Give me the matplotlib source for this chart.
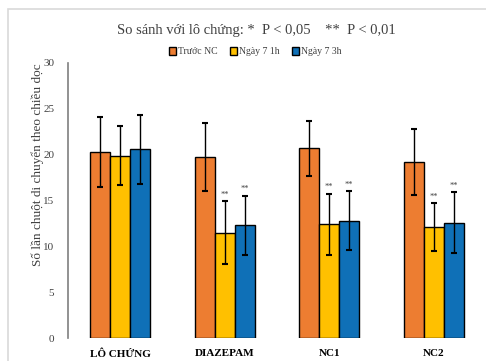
import numpy as np
import matplotlib.pyplot as plt
from matplotlib.patches import Rectangle

groups = ["LÔ CHỨNG", "DIAZEPAM", "NC1", "NC2"]
series = ["Trước NC", "Ngày 7 1h", "Ngày 7 3h"]
truoc = [20.3, 19.7, 20.7, 19.2]
ngay7_1h = [19.9, 11.5, 12.4, 12.1]
ngay7_3h = [20.6, 12.3, 12.8, 12.6]
sd_truoc = [3.8, 3.7, 3.0, 3.6]
sd_1h = [3.2, 3.4, 3.3, 2.6]
sd_3h = [3.75, 3.2, 3.2, 3.3]
marks_1h = ["", "**", "**", "**"]
marks_3h = ["", "**", "**", "**"]

colors = ["#ED7D31", "#FFC000", "#0F70B7"]

plt.rcParams['font.family'] = ['Liberation Serif', 'DejaVu Serif']

fig = plt.figure(figsize=(4.86, 3.61), dpi=100)
fig.patches.append(Rectangle((8 / 486, -0.1), 1.2, (361 - 9) / 361 + 0.1,
                             transform=fig.transFigure, fill=False,
                             edgecolor="#D9D9D9", linewidth=1.2))
ax = fig.add_axes([68 / 486, (361 - 338) / 361, (486 - 68) / 486, (338 - 63) / 361])

x = np.arange(len(groups))
w = 0.19
vals = [truoc, ngay7_1h, ngay7_3h]
errs = [sd_truoc, sd_1h, sd_3h]
for i in range(3):
    ax.bar(x + (i - 1) * w, vals[i], w, color=colors[i], edgecolor="black",
           linewidth=1.0, label=series[i], zorder=2)
    ax.errorbar(x + (i - 1) * w, vals[i], yerr=errs[i], fmt="none",
                ecolor="black", elinewidth=1.0, capsize=2.5, capthick=1.5, zorder=3)

for j in range(len(groups)):
    if marks_1h[j]:
        ax.text(x[j], ngay7_1h[j] + sd_1h[j] + 0.3, marks_1h[j], ha="center",
                va="bottom", fontsize=6, color="#404040")
    if marks_3h[j]:
        ax.text(x[j] + w, ngay7_3h[j] + sd_3h[j] + 0.3, marks_3h[j], ha="center",
                va="bottom", fontsize=6, color="#404040")

ax.set_xlim(-0.5, len(groups) - 0.5)
ax.set_ylim(0, 30)
ax.set_yticks(range(0, 31, 5))
ax.set_xticks(x)
ax.set_xticklabels(groups, fontweight="bold", fontsize=8)
ax.tick_params(axis="both", length=0, labelsize=8, colors="#404040")
ax.tick_params(axis="x", colors="black", pad=8)
ax.tick_params(axis="y", pad=10)
for s in ["top", "right", "bottom"]:
    ax.spines[s].set_visible(False)
ax.spines["left"].set_color("#7F7F7F")
ax.spines["left"].set_linewidth(1.2)

ax.set_ylabel("Số lần chuột di chuyển theo chiều dọc", fontsize=9.5, color="#404040")
ax.yaxis.set_label_coords(-24 / 418, 0.63)

fig.text(0.527, 0.915, "So sánh với lô chứng: *  P < 0,05    **  P < 0,01",
         ha="center", va="center", fontsize=10.5, color="#404040")
fig.legend(loc="center", bbox_to_anchor=(0.525, 0.857), ncol=3, frameon=False,
           fontsize=7, handlelength=0.8, handleheight=0.8, handletextpad=0.2,
           columnspacing=1.2, labelcolor="#404040")

fig.savefig("out.png", dpi=100)
